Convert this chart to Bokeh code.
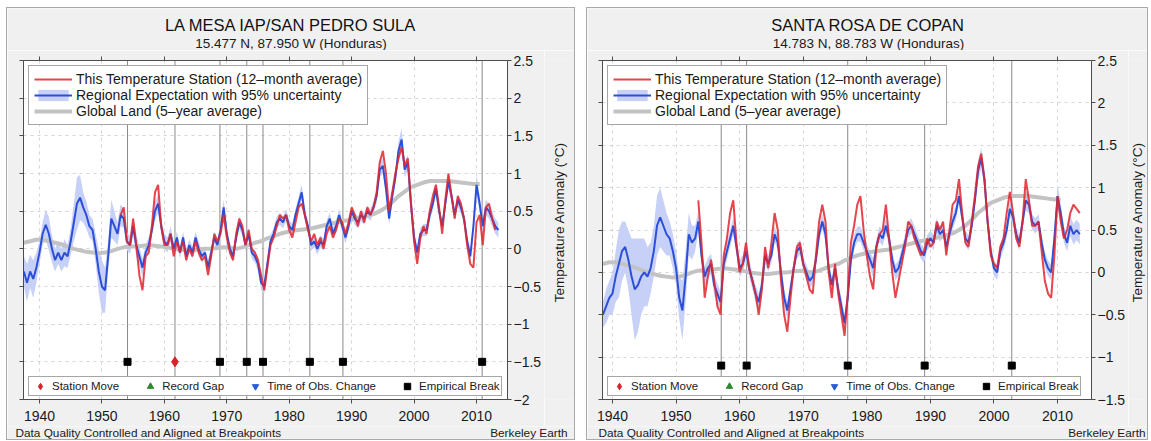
import math
from bokeh.plotting import figure
from bokeh.models import Range1d, LinearAxis, FixedTicker, Grid, Legend, LegendItem, Spacer
from bokeh.layouts import row, column
from bokeh.core.properties import value
from bokeh.embed import file_html
from bokeh.resources import INLINE

FONT = "Liberation Sans"

# ---------------- shared data ----------------
x_ticks = [1940, 1950, 1960, 1970, 1980, 1990, 2000, 2010]
global_start = 1937.5
global_land = [0.08, 0.10, 0.12, 0.12, 0.10, 0.08, 0.06, 0.03, 0.00, -0.02,
               -0.04, -0.05, -0.06, -0.05, -0.03, 0.00, 0.02, 0.03, 0.03, 0.04,
               0.05, 0.04, 0.03, 0.02, 0.00, -0.01, -0.02, -0.02, -0.01, 0.00,
               0.00, 0.01, 0.02, 0.01, 0.00, 0.02, 0.05, 0.08, 0.10, 0.14,
               0.17, 0.20, 0.22, 0.24, 0.25, 0.26, 0.27, 0.29, 0.31, 0.33,
               0.35, 0.37, 0.38, 0.40, 0.42, 0.44, 0.46, 0.50, 0.55, 0.62,
               0.70, 0.76, 0.82, 0.85, 0.88, 0.90, 0.90, 0.90, 0.90, 0.89,
               0.88, 0.87, 0.86, 0.86]

legend_labels = ["This Temperature Station (12\u2013month average)",
                 "Regional Expectation with 95% uncertainty",
                 "Global Land (5\u2013year average)"]
break_labels = ["Station Move", "Record Gap", "Time of Obs. Change", "Empirical Break"]
y_label = "Temperature Anomaly (\u00b0C)"
footer_left = "Data Quality Controlled and Aligned at Breakpoints"
footer_right = "Berkeley Earth"

# ---------------- panel 1 ----------------
p1_title = "LA MESA IAP/SAN PEDRO SULA"
p1_sub = "15.477 N, 87.950 W (Honduras)"
p1_yticks = [-2, -1.5, -1, -0.5, 0, 0.5, 1, 1.5, 2, 2.5]
p1_ylabels = ["\u22122", "\u22121.5", "\u22121", "\u22120.5", "0", "0.5", "1", "1.5", "2", "2.5"]
p1_blue_start = 1937.5
p1_blue = [-0.30, -0.45, -0.30, -0.40, -0.25, -0.05, 0.20, 0.32, 0.20, 0.00,
           -0.15, -0.05, -0.15, -0.05, -0.10, 0.10, 0.35, 0.60, 0.68, 0.55,
           0.45, 0.30, 0.25, 0.00, -0.30, -0.50, -0.55, -0.10, 0.40, 0.30,
           0.20, 0.45, 0.40, 0.10, 0.05, 0.30, 0.05, -0.10, -0.25, -0.05,
           0.05, 0.25, 0.50, 0.60, 0.30, 0.10, 0.05, 0.20, 0.00, 0.15,
           -0.05, 0.15, -0.10, 0.05, -0.05, 0.15, 0.00, -0.10, -0.05, -0.25,
           -0.05, 0.15, 0.05, 0.25, 0.55, 0.20, 0.00, -0.10, 0.15, 0.35,
           0.25, 0.05, 0.20, -0.05, -0.10, -0.20, -0.45, -0.50, -0.20, 0.10,
           0.20, 0.35, 0.40, 0.35, 0.45, 0.30, 0.25, 0.45, 0.60, 0.75,
           0.45, 0.30, 0.05, 0.10, 0.00, 0.10, 0.05, 0.30, 0.40, 0.20,
           0.30, 0.45, 0.30, 0.15, 0.30, 0.50, 0.40, 0.35, 0.45, 0.40,
           0.50, 0.45, 0.55, 0.70, 1.05, 1.10, 0.80, 0.40, 0.70, 0.95,
           1.30, 1.45, 1.05, 1.15, 0.60, 0.15, -0.05, 0.20, 0.25, 0.25,
           0.45, 0.60, 0.80, 0.50, 0.30, 0.60, 0.90, 0.70, 0.45, 0.65,
           0.55, 0.40, 0.10, -0.10, 0.30, 0.85, 0.60, 0.30, 0.55, 0.50,
           0.40, 0.30, 0.25]
p1_unc = [0.20, 0.25, 0.22, 0.25, 0.20, 0.15, 0.15, 0.20, 0.22, 0.18,
          0.15, 0.15, 0.15, 0.18, 0.15, 0.18, 0.25, 0.35, 0.30, 0.20,
          0.18, 0.15, 0.15, 0.20, 0.28, 0.35, 0.30, 0.20, 0.25, 0.20,
          0.15, 0.15, 0.12, 0.12, 0.12, 0.12, 0.15, 0.12, 0.12, 0.10,
          0.10, 0.10, 0.12, 0.12, 0.10, 0.10, 0.10, 0.10, 0.08, 0.08,
          0.08, 0.08, 0.09, 0.08, 0.08, 0.08, 0.09, 0.08, 0.08, 0.10,
          0.08, 0.08, 0.08, 0.09, 0.10, 0.08, 0.08, 0.08, 0.08, 0.08,
          0.08, 0.08, 0.08, 0.08, 0.08, 0.09, 0.10, 0.10, 0.08, 0.08,
          0.08, 0.08, 0.08, 0.08, 0.08, 0.08, 0.08, 0.08, 0.09, 0.10,
          0.08, 0.08, 0.08, 0.08, 0.08, 0.08, 0.08, 0.08, 0.08, 0.08,
          0.08, 0.08, 0.08, 0.08, 0.08, 0.08, 0.08, 0.08, 0.08, 0.08,
          0.08, 0.08, 0.08, 0.09, 0.10, 0.10, 0.09, 0.08, 0.09, 0.10,
          0.12, 0.15, 0.10, 0.10, 0.09, 0.08, 0.08, 0.08, 0.08, 0.08,
          0.08, 0.08, 0.09, 0.08, 0.08, 0.08, 0.10, 0.09, 0.08, 0.08,
          0.08, 0.08, 0.08, 0.09, 0.10, 0.14, 0.10, 0.09, 0.10, 0.10,
          0.10, 0.10, 0.10]
p1_red_start = 1953.0
p1_red = [0.45, 0.55, 0.10, 0.05, 0.40, 0.05, -0.35, -0.55, -0.10, -0.05,
          0.30, 0.75, 0.85, 0.30, 0.05, 0.05, 0.20, -0.10, 0.10, -0.05,
          0.10, -0.15, 0.00, -0.10, 0.10, -0.05, -0.15, -0.10, -0.35, -0.10,
          0.20, 0.10, 0.20, 0.45, 0.15, -0.05, -0.15, 0.20, 0.40, 0.30,
          0.05, 0.25, 0.00, -0.05, -0.15, -0.35, -0.55, -0.25, 0.05, 0.15,
          0.30, 0.45, 0.40, 0.45, 0.25, 0.15, 0.35, 0.55, 0.60, 0.45,
          0.25, 0.10, 0.20, 0.05, 0.15, 0.00, 0.20, 0.30, 0.15, 0.25,
          0.40, 0.35, 0.20, 0.35, 0.55, 0.45, 0.30, 0.50, 0.35, 0.55,
          0.45, 0.55, 0.75, 1.15, 1.30, 1.00, 0.50, 0.75, 1.00, 1.20,
          1.35, 1.10, 1.20, 0.60, 0.10, -0.20, 0.15, 0.30, 0.20, 0.50,
          0.70, 0.85, 0.55, 0.20, 0.65, 1.00, 0.70, 0.40, 0.70, 0.60,
          0.40, 0.05, -0.20, -0.25, 0.35, 0.45, 0.05, 0.55, 0.60, 0.40,
          0.25]
p1_breaks = [1954.1, 1961.7, 1968.9, 1973.2, 1975.8, 1983.3, 1988.6, 2010.9]
p1_break_kind = ["Empirical Break", "Station Move", "Empirical Break", "Empirical Break",
                 "Empirical Break", "Empirical Break", "Empirical Break", "Empirical Break"]
p1_marker_y = -1.5

# ---------------- panel 2 ----------------
p2_title = "SANTA ROSA DE COPAN"
p2_sub = "14.783 N, 88.783 W (Honduras)"
p2_yticks = [-1.5, -1, -0.5, 0, 0.5, 1, 1.5, 2, 2.5]
p2_ylabels = ["\u22121.5", "\u22121", "\u22120.5", "0", "0.5", "1", "1.5", "2", "2.5"]
p2_blue_start = 1938.5
p2_blue = [-0.50, -0.40, -0.30, -0.25, -0.05, 0.10, 0.25, 0.30, 0.15, -0.05,
           -0.20, -0.15, -0.05, 0.00, -0.05, 0.05, 0.25, 0.55, 0.65, 0.55,
           0.45, 0.40, 0.25, 0.05, -0.30, -0.45, -0.05, 0.45, 0.35, 0.40,
           0.60, 0.20, -0.05, 0.05, 0.10, -0.15, -0.25, -0.35, 0.10, 0.25,
           0.40, 0.55, 0.30, 0.05, 0.10, 0.25, 0.05, -0.10, -0.25, -0.35,
           -0.15, 0.20, 0.10, 0.20, 0.45, 0.35, 0.00, -0.30, -0.45, -0.20,
           0.05, 0.25, 0.30, 0.10, 0.00, -0.10, -0.05, 0.15, 0.45, 0.60,
           0.45, 0.05, -0.15, 0.05, -0.20, -0.40, -0.60, -0.30, 0.15, 0.35,
           0.45, 0.45, 0.35, 0.25, 0.15, 0.05, 0.30, 0.45, 0.40, 0.55,
           0.40, 0.15, 0.00, 0.05, 0.20, 0.35, 0.50, 0.55, 0.45, 0.35,
           0.25, 0.20, 0.35, 0.40, 0.35, 0.55, 0.45, 0.50, 0.30, 0.45,
           0.60, 0.70, 0.90, 0.65, 0.40, 0.35, 0.55, 0.85, 1.20, 1.35,
           1.10, 0.60, 0.25, 0.05, 0.00, 0.25, 0.35, 0.50, 0.75, 0.65,
           0.45, 0.35, 0.60, 0.85, 0.80, 0.60, 0.55, 0.60, 0.35, 0.15,
           0.05, 0.00, 0.40, 0.90, 0.70, 0.45, 0.35, 0.55, 0.45, 0.50,
           0.45]
p2_unc = [0.15, 0.20, 0.20, 0.25, 0.30, 0.40, 0.35, 0.30, 0.35, 0.45,
          0.60, 0.55, 0.45, 0.40, 0.35, 0.30, 0.30, 0.35, 0.35, 0.30,
          0.25, 0.20, 0.20, 0.20, 0.25, 0.35, 0.30, 0.25, 0.20, 0.15,
          0.12, 0.12, 0.12, 0.12, 0.12, 0.12, 0.12, 0.12, 0.10, 0.10,
          0.10, 0.10, 0.10, 0.10, 0.10, 0.10, 0.10, 0.10, 0.10, 0.10,
          0.10, 0.10, 0.09, 0.09, 0.09, 0.09, 0.10, 0.10, 0.10, 0.09,
          0.09, 0.09, 0.09, 0.09, 0.09, 0.09, 0.09, 0.09, 0.09, 0.09,
          0.09, 0.09, 0.09, 0.09, 0.09, 0.10, 0.10, 0.09, 0.09, 0.09,
          0.09, 0.09, 0.09, 0.09, 0.09, 0.12, 0.09, 0.09, 0.09, 0.09,
          0.09, 0.09, 0.09, 0.09, 0.09, 0.09, 0.09, 0.09, 0.09, 0.09,
          0.09, 0.09, 0.09, 0.09, 0.09, 0.09, 0.09, 0.09, 0.09, 0.09,
          0.09, 0.09, 0.09, 0.09, 0.09, 0.09, 0.09, 0.10, 0.12, 0.12,
          0.10, 0.09, 0.09, 0.09, 0.09, 0.09, 0.09, 0.09, 0.09, 0.09,
          0.09, 0.09, 0.09, 0.12, 0.10, 0.09, 0.09, 0.09, 0.09, 0.09,
          0.09, 0.09, 0.10, 0.14, 0.10, 0.10, 0.10, 0.12, 0.12, 0.12,
          0.12]
p2_red_start = 1953.5
p2_red = [0.85, 0.35, -0.30, -0.05, 0.15, -0.10, -0.40, -0.50, 0.20, 0.40,
          0.70, 0.85, 0.35, 0.00, 0.10, 0.35, 0.05, -0.10, -0.25, -0.50,
          -0.20, 0.30, 0.05, 0.35, 0.70, 0.50, -0.10, -0.50, -0.70, -0.30,
          0.05, 0.30, 0.35, 0.10, -0.05, -0.20, -0.25, 0.20, 0.60, 0.80,
          0.60, 0.00, -0.30, 0.10, -0.25, -0.50, -0.75, -0.25, 0.35, 0.55,
          0.80, 0.90, 0.50, 0.20, -0.05, -0.20, 0.30, 0.45, 0.50, 0.80,
          0.40, 0.00, -0.30, -0.10, 0.10, 0.30, 0.60, 0.55, 0.40, 0.30,
          0.20, 0.25, 0.40, 0.30, 0.35, 0.60, 0.50, 0.60, 0.20, 0.50,
          0.80, 0.85, 1.10, 0.70, 0.35, 0.30, 0.60, 0.90, 1.25, 1.40,
          1.10, 0.60, 0.20, 0.10, 0.05, 0.30, 0.40, 0.70, 0.95, 0.70,
          0.40, 0.30, 0.60, 1.10, 0.85, 0.55, 0.55, 0.60, 0.25, -0.10,
          -0.25, -0.30, 0.20, 0.90, 0.60, 0.40, 0.50, 0.70, 0.80, 0.75,
          0.70]
p2_breaks = [1957.1, 1961.1, 1977.0, 1989.1, 2002.8]
p2_break_kind = ["Empirical Break"] * 5
p2_marker_y = -1.1

# ---------------- styling ----------------
RED = "#e2242d"
BLUE = "#2c4fd8"
BAND = "#c7d0f6"
GRAY = "#c3c3c3"
FRAME = "#4d4d4d"
TXT = "#1a1a1a"
PANEL_BG = "#f0f0f0"
MARK = {"Station Move": ("diamond", "#d8232a", 10),
        "Record Gap": ("triangle", "#2f8a2f", 8),
        "Time of Obs. Change": ("inverted_triangle", "#2a5bd7", 8),
        "Empirical Break": ("square", "black", 7)}

HEAD_H, MAIN_H, FOOT_H = 42, 376, 13
TOP_B, BOT_B = 10, 27


def semi(start, vals):
    return [start + 0.5 * i for i in range(len(vals))]


def plain_fig(w, h):
    f = figure(width=w, height=h, x_range=Range1d(0, w), y_range=Range1d(h, 0),
               output_backend="svg", toolbar_location=None, title=None,
               x_axis_location=None, y_axis_location=None,
               min_border_left=0, min_border_right=0, min_border_top=0, min_border_bottom=0,
               background_fill_color=PANEL_BG, border_fill_color=PANEL_BG,
               outline_line_color=None)
    f.grid.visible = False
    return f


def put_text(f, x, y, txt, size, align="center", angle=0.0, color=TXT):
    f.text(x=[x], y=[y], text=[txt], angle=angle, text_align=align,
           text_baseline="middle", text_font=value(FONT),
           text_font_size=value(size), text_color=color)


def make_panel(cfg):
    W, MW = cfg["W"], cfg["MW"]
    bl, br = cfg["borders"]
    x0, x1 = cfg["xr"]
    y0, y1 = cfg["yr"]

    # header with titles
    head = plain_fig(W, HEAD_H)
    put_text(head, cfg["center"], 16, cfg["title"], "16.5px", color="#111111")
    put_text(head, cfg["center"], 35, cfg["sub"], "13.5px")

    p = figure(width=MW, height=MAIN_H, x_range=Range1d(x0, x1), y_range=Range1d(y0, y1),
               output_backend="svg", toolbar_location=None, title=None,
               x_axis_location=None, y_axis_location=None,
               min_border_left=bl, min_border_right=br,
               min_border_top=TOP_B, min_border_bottom=BOT_B,
               border_fill_color=PANEL_BG, background_fill_color="white",
               outline_line_color=FRAME, outline_line_width=1)
    p.grid.visible = False

    def axis(ticks, show, overrides=None, standoff=2):
        ax = LinearAxis(ticker=FixedTicker(ticks=ticks),
                        axis_line_color=FRAME, major_tick_line_color=FRAME,
                        major_tick_in=0, major_tick_out=4,
                        minor_tick_line_color=None,
                        major_label_text_font=FONT,
                        major_label_text_color=TXT if show else None,
                        major_label_standoff=standoff if show else 0,
                        major_label_text_font_size="14px" if show else "1px")
        if overrides:
            ax.major_label_overrides = overrides
        return ax

    p.add_layout(axis(x_ticks, True, standoff=7), "below")
    p.add_layout(axis(x_ticks, False), "above")
    p.add_layout(axis(cfg["yticks"], False), "left")
    p.add_layout(axis(cfg["yticks"], True, dict(zip(cfg["yticks"], cfg["ylabels"]))), "right")

    p.add_layout(Grid(dimension=0, ticker=FixedTicker(ticks=x_ticks),
                      grid_line_color="#d4d4d4", grid_line_dash="3 4"))
    p.add_layout(Grid(dimension=1, ticker=FixedTicker(ticks=cfg["yticks"]),
                      grid_line_color="#d4d4d4", grid_line_dash="3 4"))

    brk = cfg["breaks"]
    p.segment(x0=brk, y0=[y0] * len(brk), x1=brk, y1=[y1] * len(brk),
              line_color="#8a8a8a", line_width=1)

    bx = semi(cfg["blue_start"], cfg["blue"])
    lo = [v - u for v, u in zip(cfg["blue"], cfg["unc"])]
    hi = [v + u for v, u in zip(cfg["blue"], cfg["unc"])]
    band = p.varea(x=bx, y1=lo, y2=hi, fill_color=BAND, fill_alpha=1.0)
    gx = [global_start + i for i in range(len(global_land))]
    gray = p.line(gx, global_land, line_color=GRAY, line_width=4)
    blue = p.line(bx, cfg["blue"], line_color=BLUE, line_width=2)
    red = p.line(semi(cfg["red_start"], cfg["red"]), cfg["red"], line_color=RED,
                 line_width=2, line_alpha=0.85)

    mrk = {}
    for name in break_labels:
        shape, col, size = MARK[name]
        xs = [b for b, k in zip(brk, cfg["kinds"]) if k == name]
        ys = [cfg["marker_y"]] * len(xs)
        if not xs:  # legend-only proxy, never visible in the plot
            xs, ys = [math.nan], [math.nan]
        mrk[name] = p.scatter(x=xs, y=ys, marker=shape, size=size,
                              fill_color=col, line_color=col)

    top_leg = Legend(items=[LegendItem(label=legend_labels[0], renderers=[red]),
                            LegendItem(label=legend_labels[1], renderers=[band, blue]),
                            LegendItem(label=legend_labels[2], renderers=[gray])],
                     location="top_left", margin=5, padding=5, spacing=0,
                     glyph_width=38, glyph_height=14, label_height=14,
                     label_standoff=4, label_text_font=FONT, label_text_font_size="14px",
                     label_text_color=TXT,
                     border_line_color=FRAME, border_line_width=1,
                     background_fill_color="white", background_fill_alpha=1.0)
    p.add_layout(top_leg)

    bot_leg = Legend(items=[LegendItem(label=n, renderers=[mrk[n]]) for n in break_labels],
                     orientation="horizontal", location=(5, 3), margin=0, padding=1,
                     spacing=21, glyph_width=20, glyph_height=16, label_height=12,
                     label_standoff=2, label_text_font=FONT, label_text_font_size="11.5px",
                     label_text_color=TXT,
                     border_line_color=FRAME, border_line_width=1,
                     background_fill_color="white", background_fill_alpha=1.0)
    p.add_layout(bot_leg)

    # rotated y-axis title at the right
    side = plain_fig(W - MW, MAIN_H)
    put_text(side, cfg["ylab_x"], (TOP_B + MAIN_H - BOT_B) / 2.0, y_label, "13.5px",
             angle=math.pi / 2)

    foot = plain_fig(W, FOOT_H)
    put_text(foot, cfg["foot_l"], 6.5, footer_left, "11.8px", align="left")
    put_text(foot, cfg["foot_r"], 6.5, footer_right, "11.8px", align="right")

    return column(head, row(p, side), foot,
                  styles={"border": "1px solid #a9a9a9"})


cfg1 = dict(W=567, MW=537, borders=(16, 36), xr=(1937.44, 2014.96), yr=(-2.0, 2.5),
            yticks=p1_yticks, ylabels=p1_ylabels, blue_start=p1_blue_start, blue=p1_blue,
            unc=p1_unc, red_start=p1_red_start, red=p1_red, breaks=p1_breaks,
            kinds=p1_break_kind, marker_y=p1_marker_y, title=p1_title, sub=p1_sub,
            center=283.5, foot_l=8, foot_r=560, ylab_x=15)
cfg2 = dict(W=560, MW=541, borders=(15, 36), xr=(1938.43, 2015.34), yr=(-1.5, 2.5),
            yticks=p2_yticks, ylabels=p2_ylabels, blue_start=p2_blue_start, blue=p2_blue,
            unc=p2_unc, red_start=p2_red_start, red=p2_red, breaks=p2_breaks,
            kinds=p2_break_kind, marker_y=p2_marker_y, title=p2_title, sub=p2_sub,
            center=281, foot_l=11, foot_r=558, ylab_x=9)

panel1 = make_panel(cfg1)
panel2 = make_panel(cfg2)
layout = column(Spacer(height=7),
                row(Spacer(width=6), panel1, Spacer(width=11), panel2))

open("out.html", "w").write(file_html(layout, INLINE))
